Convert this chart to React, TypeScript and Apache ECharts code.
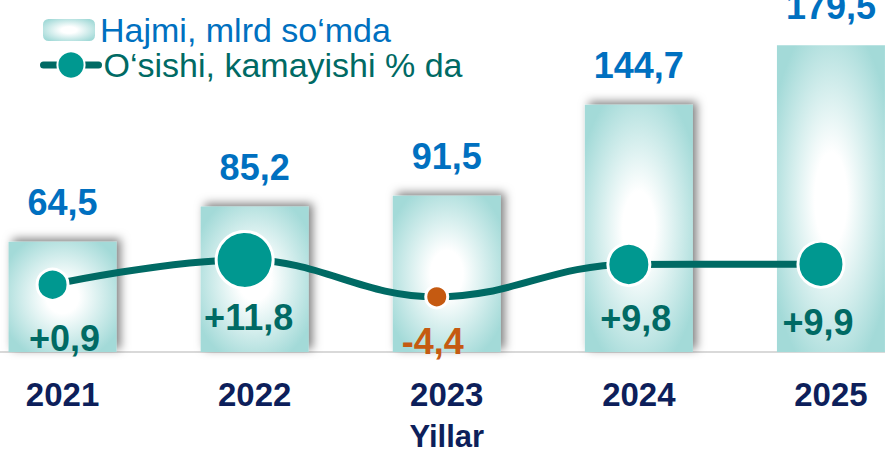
import React, { useEffect, useRef } from "react";
import * as echarts from "echarts";

const years = ["2021", "2022", "2023", "2024", "2025"];
const volume = [64.5, 85.2, 91.5, 144.7, 179.5];
const growth = [0.9, 11.8, -4.4, 9.8, 9.9];
const volumeName = "Hajmi, mlrd so‘mda";
const growthName = "O‘sishi, kamayishi % da";
const axisName = "Yillar";

const markerSizes = [31, 57, 22, 42, 46];
const labelDistances = [19, 10, 14, 14, 16];
const labelShiftX = [12, 4, -4, 7, -3];
const barShadow = [true, true, true, true, false];

const fmt = (v: number) => v.toFixed(1).replace(".", ",");
const fmtSigned = (v: number) => (v > 0 ? "+" : "") + fmt(v);

const SANS = "'Liberation Sans', Arial, Helvetica, sans-serif";
const TEAL_DARK = "#006a64";
const TEAL = "#009890";
const ORANGE = "#c55a11";
const BLUE = "#0070c0";
const NAVY = "#0d1f5b";

const barGradient = {
  type: "radial",
  x: 0.5,
  y: 0.5,
  r: 0.6,
  colorStops: [
    { offset: 0, color: "#ffffff" },
    { offset: 0.25, color: "#ffffff" },
    { offset: 1, color: "#a3dad8" },
  ],
};

export default function App() {
  const ref = useRef<HTMLDivElement>(null);
  useEffect(() => {
    if (!ref.current) return;
    const chart = echarts.init(ref.current, undefined, { renderer: "svg" });
    const option: any = {
      animation: false,
      backgroundColor: "#ffffff",
      legend: [
        {
          data: [volumeName],
          left: 43,
          top: 13,
          padding: 0,
          itemWidth: 52,
          itemHeight: 22,
          selectedMode: false,
          textStyle: { fontSize: 34, color: BLUE, fontFamily: SANS },
        },
        {
          data: [growthName],
          left: 40,
          top: 48,
          padding: 0,
          itemWidth: 55,
          itemHeight: 34,
          selectedMode: false,
          lineStyle: { width: 7, cap: "round", color: TEAL_DARK },
          textStyle: { fontSize: 34, color: TEAL_DARK, fontFamily: SANS },
        },
      ],
      grid: [
        { left: -33.5, right: -42, top: 0, bottom: 101, containLabel: false, outerBoundsMode: "none" },
        { left: -43.5, right: -32, top: 0, bottom: 101, containLabel: false, outerBoundsMode: "none" },
      ],
      xAxis: [
        {
          type: "category",
          gridIndex: 0,
          data: years,
          axisLine: { show: true, lineStyle: { color: "#d9d9d9", width: 2 } },
          axisTick: { show: false },
          axisLabel: {
            fontSize: 33,
            fontWeight: "bold",
            fontFamily: SANS,
            color: NAVY,
            margin: 26,
          },
          name: axisName,
          nameLocation: "middle",
          nameGap: 69,
          nameTextStyle: {
            fontSize: 31,
            fontWeight: "bold",
            fontFamily: SANS,
            color: NAVY,
          },
        },
        {
          type: "category",
          gridIndex: 1,
          data: years,
          show: false,
        },
      ],
      yAxis: [
        { type: "value", gridIndex: 0, min: 0, max: 206, show: false, splitLine: { show: false } },
        { type: "value", gridIndex: 1, min: -28.6, max: 125.8, show: false, splitLine: { show: false } },
      ],
      series: [
        {
          name: volumeName,
          type: "bar",
          xAxisIndex: 0,
          yAxisIndex: 0,
          barWidth: 108,
          clip: false,
          itemStyle: { color: barGradient },
          data: volume.map((v, i) => ({
            value: v,
            itemStyle: barShadow[i]
              ? {
                  shadowBlur: 10,
                  shadowColor: "rgba(0,0,0,0.5)",
                  shadowOffsetX: 4,
                  shadowOffsetY: -3,
                }
              : {},
          })),
          label: {
            show: true,
            position: "top",
            distance: 21,
            formatter: (p: any) => fmt(p.value),
            fontSize: 36,
            fontWeight: "bold",
            fontFamily: SANS,
            color: BLUE,
          },
        },
        {
          name: growthName,
          type: "line",
          xAxisIndex: 1,
          yAxisIndex: 1,
          smooth: 0.4,
          clip: false,
          symbol: "circle",
          lineStyle: { color: TEAL_DARK, width: 7 },
          itemStyle: { color: TEAL, borderColor: "#ffffff", borderWidth: 3 },
          data: growth.map((v, i) => ({
            value: v,
            symbolSize: markerSizes[i],
            itemStyle: { color: v < 0 ? ORANGE : TEAL, borderColor: "#ffffff", borderWidth: 3 },
            label: {
              show: true,
              position: "bottom",
              distance: labelDistances[i],
              offset: [labelShiftX[i], 0],
              formatter: () => fmtSigned(v),
              fontSize: 36,
              fontWeight: "bold",
              fontFamily: SANS,
              color: v < 0 ? ORANGE : TEAL_DARK,
            },
          })),
        },
      ],
    };
    chart.setOption(option);
    return () => chart.dispose();
  }, []);
  return (
    <div
      ref={ref}
      style={{ position: "fixed", left: 0, top: 0, width: 885, height: 453 }}
    />
  );
}
